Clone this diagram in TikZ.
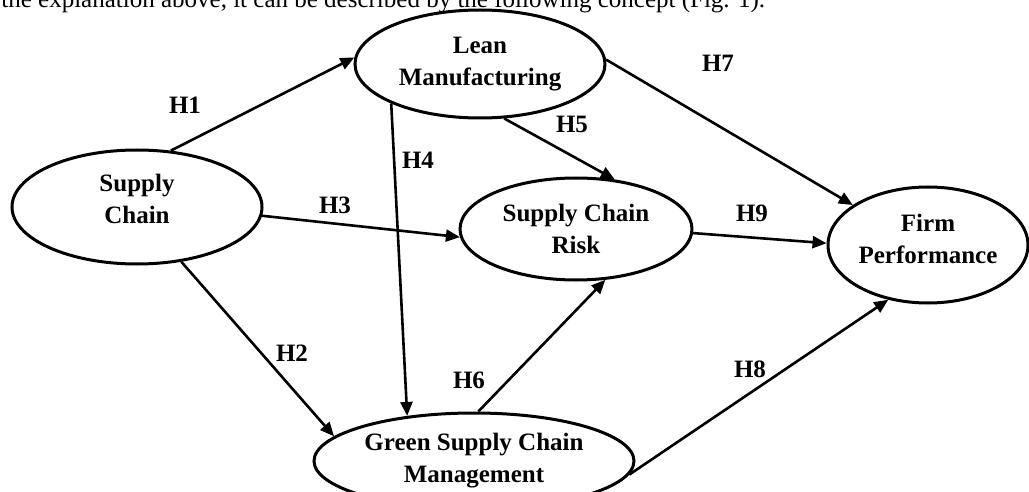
\documentclass[tikz,border=0pt]{standalone}
\usepackage{fontspec}
\setmainfont{Liberation Serif}
\usepackage{tikz}
\usetikzlibrary{shapes.geometric, arrows.meta, positioning}
\tikzset{>={Triangle[length=7pt,width=6pt]}}
\tikzset{
	construct/.style={draw, ellipse, line width=1.5pt, inner sep=0pt, align=center, font=\bfseries\fontsize{12.5}{16}\selectfont},
	hyp/.style={inner sep=0pt, font=\bfseries\fontsize{12.5}{15}\selectfont},
	link/.style={->, line width=1.3pt}
}

\begin{document}
\begin{tikzpicture}[x=0.5pt, y=-0.5pt]
			\clip (0,0) rectangle (1029,492);
			% running text cut off above the figure
			\node[anchor=base west, inner sep=0pt, font=\fontsize{12.5}{15}\selectfont] (caption) at (1,8) {the explanation above, it can be described by the following concept (Fig. 1).};
			% constructs
			\node[construct, minimum width=125pt, minimum height=57pt, text depth=8pt] (sc) at (137,207) {Supply\\Chain};
			\node[construct, minimum width=125pt, minimum height=54pt] (lean) at (480,64) {Lean\\Manufacturing};
			\node[construct, minimum width=116pt, minimum height=51pt] (scr) at (576,229) {Supply Chain\\Risk};
			\node[construct, minimum width=160pt, minimum height=48pt] (gscm) at (474,461) {Green Supply Chain\\Management};
			\node[construct, minimum width=100pt, minimum height=58pt, text depth=6pt] (fp) at (928,245) {Firm\\Performance};
			% hypotheses
			\draw[link] (sc.59) -- (lean.177);
			\draw[link] (sc.-51) -- (gscm.170);
			\draw[link] (sc.-4) -- (scr.184);
			\draw[link] (lean.204) -- (gscm.146);
			\draw[link] (lean.-66) -- (scr.52);
			\draw[link] (gscm.85) -- (scr.-60);
			\draw[link] (lean.2) -- (fp.152);
			\draw[link] (gscm.-5) -- (fp.234);
			\draw[link] (scr.-2) -- (fp.179);
			\node[hyp] (h1) at (185,105) {H1};
			\node[hyp] (h2) at (292,353) {H2};
			\node[hyp] (h3) at (335,205) {H3};
			\node[hyp] (h4) at (418,160) {H4};
			\node[hyp] (h5) at (572,124) {H5};
			\node[hyp] (h6) at (469,380) {H6};
			\node[hyp] (h7) at (718,63) {H7};
			\node[hyp] (h8) at (750,369) {H8};
			\node[hyp] (h9) at (752,213) {H9};
		\end{tikzpicture}
\end{document}
